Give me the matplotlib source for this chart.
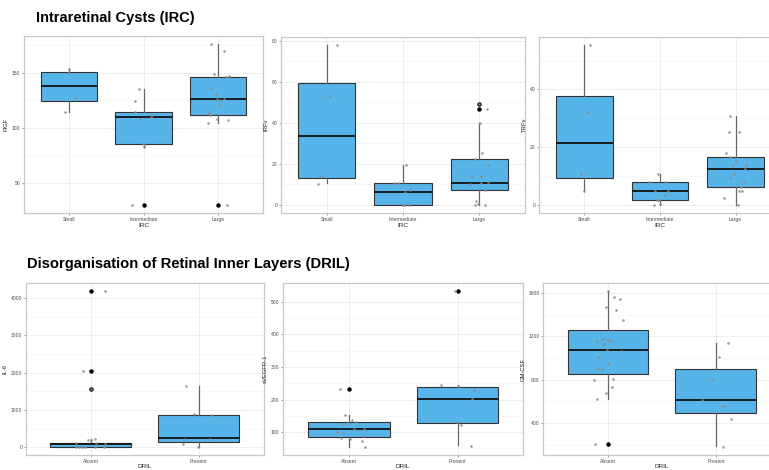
import matplotlib
matplotlib.use("Agg")
import matplotlib.pyplot as plt

plt.rcParams["font.family"] = ["Liberation Sans", "DejaVu Sans"]

IRC_GROUPS = ["Small", "Intermediate", "Large"]
DRIL_GROUPS = ["Absent", "Present"]

# ---- IRC row ----
# PlGF by IRC size
plgf_box = [(114, 124, 138, 151, 153), (83, 85, 110, 114, 135), (104, 112, 126, 146, 176)]
plgf_outliers = [[], [30], [30]]
plgf_points = [
    [153, 150, 127, 114],
    [135, 124, 114, 112, 110, 108, 85, 83, 30],
    [176, 170, 149, 147, 146, 136, 131, 126, 126, 125, 121, 113, 112, 108, 107, 104, 30],
]
plgf_jitter = [
    [0.0, -0.01, 0.09, -0.045],
    [-0.06, -0.12, -0.12, 0.11, 0.10, -0.05, -0.01, 0.01, -0.15],
    [-0.10, 0.08, -0.05, 0.15, 0.10, -0.09, -0.03, -0.02, 0.08, 0.02, 0.01, -0.125, -0.11, -0.02, 0.13, -0.13, 0.12],
]

# IRFv by IRC size
irfv_box = [(10.9, 13.3, 33.8, 59.5, 78), (0, 0, 6.2, 10.7, 19.7), (0, 7.2, 10.9, 22.6, 40.2)]
irfv_outliers = [[], [], [49.4, 46.8]]
irfv_points = [
    [78, 53.2, 14, 10.4],
    [19.7, 10.7, 10.7, 6.5, 7.2, 0, 0, 0],
    [49.4, 46.7, 40.2, 25.2, 22.6, 19.5, 14.3, 14, 10.4, 10.7, 11, 7.2, 2, 0.5, 0, 0],
]
irfv_jitter = [
    [0.14, 0.04, -0.07, -0.11],
    [0.04, -0.12, -0.07, 0.03, 0.09, 0.0, 0.02, 0.075],
    [0.0, 0.10, 0.01, 0.03, -0.05, 0.11, -0.09, 0.02, -0.125, 0.02, 0.12, 0.075, -0.045, -0.01, -0.06, 0.07],
]

# TRFv by IRC size
trfv_box = [(4.8, 9.4, 21.5, 37.9, 55.4), (0, 1.6, 4.8, 7.8, 10.9), (0, 6.4, 12.4, 16.6, 30.7)]
trfv_outliers = [[], [], []]
trfv_points = [
    [55.4, 32.2, 10.9, 4.8],
    [10.9, 7.8, 7.8, 4.8, 4.8, 3.4, 1.6, 1.6, 0, 0.5],
    [30.8, 25.2, 25.2, 18.1, 16.6, 13.8, 13.8, 15.2, 10.9, 9.5, 7.8, 6.4, 4.8, 4.8, 2.3, 0, 12.4],
]
trfv_jitter = [
    [0.07, 0.04, -0.04, 0.0],
    [-0.03, -0.15, 0.075, -0.07, 0.11, 0.06, -0.04, -0.03, -0.08, 0.0],
    [-0.07, -0.09, 0.04, -0.13, -0.08, -0.03, 0.14, 0.01, -0.02, -0.07, 0.13, 0.07, 0.05, 0.09, -0.15, 0.03, 0.13],
]

# ---- DRIL row ----
il6_box = [(0, 9, 78, 121, 216), (17, 138, 250, 873, 1640)]
il6_outliers = [[4200, 2050, 1560], []]
il6_points = [
    [4200, 2050, 1560, 216, 190, 181, 121, 104, 78, 26, 0, 0, 0, 0, 0, 0],
    [1640, 890, 855, 207, 233, 78, 17],
]
il6_jitter = [
    [0.13, -0.07, 0.0, 0.04, -0.03, 0.0, -0.14, 0.05, 0.13, 0.13, -0.14, -0.11, -0.08, -0.05, 0.04, 0.12],
    [-0.12, -0.04, 0.12, -0.14, 0.10, -0.145, -0.01],
]

svegfr_box = [(54, 84, 111, 130, 154), (60, 129, 201, 238, 244)]
svegfr_outliers = [[233], [533]]
svegfr_points = [
    [232, 154, 137, 131, 124, 129, 111, 109, 100, 99, 83, 79, 87, 72, 54],
    [534, 244, 242, 231, 201, 132, 122, 59],
]
svegfr_jitter = [
    [-0.083, -0.03, 0.034, 0.068, -0.05, -0.006, 0.14, 0.05, -0.11, -0.05, -0.07, 0.01, 0.14, 0.12, 0.15],
    [-0.02, -0.15, 0.0, 0.15, 0.13, -0.01, 0.03, 0.12],
]

gmcsf_box = [(619, 850, 1076, 1262, 1621), (187, 498, 613, 901, 1138)]
gmcsf_outliers = [[204], []]
gmcsf_points = [
    [1621, 1567, 1544, 1473, 1443, 1354, 1158, 1179, 1126, 1164, 1158, 1078, 1067,
     1007, 945, 913, 898, 800, 803, 735, 679, 619, 204],
    [1141, 1007, 797, 613, 557, 438, 178],
]
gmcsf_jitter = [
    [0.0, 0.06, 0.11, -0.02, 0.07, 0.14, -0.10, -0.05, -0.04, 0.0, 0.03, -0.01, 0.12,
     -0.09, 0.0, -0.09, -0.06, -0.13, 0.05, 0.04, -0.02, -0.10, -0.12],
    [0.11, 0.03, -0.03, -0.13, 0.065, 0.14, 0.07],
]


def draw_panel(fig, rect, groups, box, outliers, points, jitter,
               ylabel, xlabel, yticks, minor_ticks, xlabel_pad=1.2):
    ax = fig.add_axes(rect)
    n = len(groups)
    pos = list(range(1, n + 1))

    stats = []
    for (lo, q1, med, q3, hi), fl in zip(box, outliers):
        stats.append(dict(whislo=lo, q1=q1, med=med, q3=q3, whishi=hi, fliers=fl))

    ax.bxp(stats, positions=pos, widths=0.75, patch_artist=True, showcaps=False,
           boxprops=dict(facecolor="#56B4E9", edgecolor="#333333", linewidth=0.8),
           medianprops=dict(color="#111111", linewidth=1.3),
           whiskerprops=dict(color="#666666", linewidth=0.9),
           flierprops=dict(marker="o", markerfacecolor="black", markeredgecolor="black",
                           markersize=2.2),
           zorder=2)

    # jittered raw values on top of the boxes
    for p, vals, offs in zip(pos, points, jitter):
        xs = [p + o for o in offs]
        ax.scatter(xs, vals, s=3.5, color="#8a8a8a", alpha=0.85, linewidths=0, zorder=3)

    all_vals = [v for vals in points for v in vals]
    lo, hi = min(all_vals), max(all_vals)
    pad = (hi - lo) * 0.05
    ax.set_ylim(lo - pad, hi + pad)
    ax.set_xlim(0.4, n + 0.6)

    ax.set_xticks(pos)
    ax.set_xticklabels(groups)
    ax.set_yticks(yticks)
    ax.set_yticks(minor_ticks, minor=True)
    ax.tick_params(axis="both", which="major", labelsize=3.6, labelcolor="#4d4d4d",
                   color="#4d4d4d", length=1.5, width=0.4, pad=1.2)
    ax.tick_params(axis="both", which="minor", length=0)

    ax.grid(True, which="major", color="#ebebeb", linewidth=0.6, zorder=0)
    ax.grid(True, which="minor", axis="y", color="#f3f3f3", linewidth=0.4, zorder=0)
    ax.set_axisbelow(True)
    for s in ax.spines.values():
        s.set_color("#c8c8c8")
        s.set_linewidth(0.9)

    ax.set_ylabel(ylabel, fontsize=4.2, color="#222222", labelpad=2)
    ax.set_xlabel(xlabel, fontsize=4.6, color="#222222", labelpad=xlabel_pad)
    return ax


W, H = 769, 470
fig = plt.figure(figsize=(W / 100, H / 100), dpi=100)


def px_rect(x0, x1, y0, y1):
    return [x0 / W, 1 - y1 / H, (x1 - x0) / W, (y1 - y0) / H]


fig.text(36 / W, 1 - 18 / H, "Intraretinal Cysts (IRC)", fontsize=10.5,
         fontweight="bold", va="center", ha="left")
fig.text(27 / W, 1 - 264 / H, "Disorganisation of Retinal Inner Layers (DRIL)",
         fontsize=10.6, fontweight="bold", va="center", ha="left")

draw_panel(fig, px_rect(24, 263, 36, 213), IRC_GROUPS, plgf_box, plgf_outliers,
           plgf_points, plgf_jitter, "PlGF", "IRC", [50, 100, 150], [25, 75, 125, 175])
draw_panel(fig, px_rect(281, 525, 37, 213), IRC_GROUPS, irfv_box, irfv_outliers,
           irfv_points, irfv_jitter, "IRFv", "IRC", [0, 20, 40, 60, 80], [10, 30, 50, 70])
draw_panel(fig, px_rect(539, 781, 37, 213), IRC_GROUPS, trfv_box, trfv_outliers,
           trfv_points, trfv_jitter, "TRFv", "IRC", [0, 20, 40], [10, 30, 50])

# bottom row sits a little higher so the DRIL axis titles stay inside the canvas
draw_panel(fig, px_rect(26, 263.5, 283, 455), DRIL_GROUPS, il6_box, il6_outliers,
           il6_points, il6_jitter, "IL-6", "DRIL", [0, 1000, 2000, 3000, 4000],
           [500, 1500, 2500, 3500], xlabel_pad=0.3)
draw_panel(fig, px_rect(283.3, 523, 283, 455), DRIL_GROUPS, svegfr_box, svegfr_outliers,
           svegfr_points, svegfr_jitter, "sVEGFR-1", "DRIL", [100, 200, 300, 400, 500],
           [50, 150, 250, 350, 450, 550], xlabel_pad=0.3)
draw_panel(fig, px_rect(543.3, 780.6, 283, 455), DRIL_GROUPS, gmcsf_box, gmcsf_outliers,
           gmcsf_points, gmcsf_jitter, "GM-CSF", "DRIL", [400, 800, 1200, 1600],
           [200, 600, 1000, 1400], xlabel_pad=0.3)

fig.savefig("out.png", dpi=100)
